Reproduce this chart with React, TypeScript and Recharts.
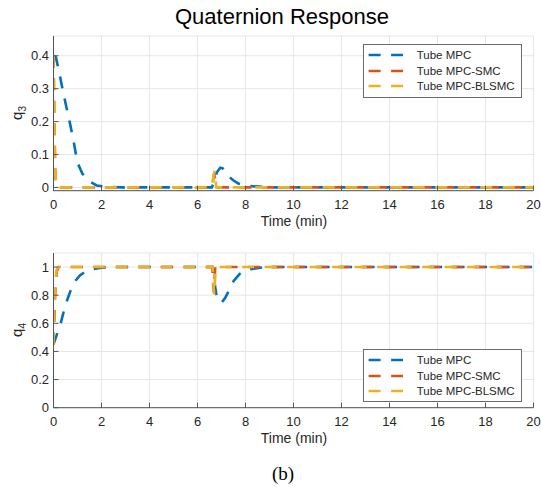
import React from "react";
import { LineChart, Line, XAxis, YAxis, CartesianGrid } from "recharts";

// ticks
const timeTicks = [0, 2, 4, 6, 8, 10, 12, 14, 16, 18, 20];
const q3Ticks = [0, 0.1, 0.2, 0.3, 0.4];
const q4Ticks = [0, 0.2, 0.4, 0.6, 0.8, 1];

const seriesNames = ["Tube MPC", "Tube MPC-SMC", "Tube MPC-BLSMC"];
const seriesColors = ["#0072BD", "#D95319", "#EDB120"];

// q3
const q3MpcTime = [0, 0.1, 0.25, 0.4, 0.55, 0.7, 0.85, 1.0, 1.2, 1.5, 1.8, 2.2, 2.8, 6.6, 6.7, 6.8, 6.95, 7.05, 7.3, 7.5, 7.7, 8.0, 8.4, 9.0, 20];
const q3MpcValue = [0.4, 0.395, 0.345, 0.29, 0.24, 0.19, 0.135, 0.075, 0.042, 0.018, 0.006, 0.002, 0, 0, 0.02, 0.045, 0.06, 0.058, 0.033, 0.021, 0.012, 0.006, 0.003, 0, 0];
const q3SmcTime = [0, 0.04, 0.08, 0.15, 6.62, 6.66, 6.7, 6.76, 20];
const q3SmcValue = [0.4, 0.2, 0.03, 0, 0, 0.03, 0.04, 0, 0];
const q3BlsmcTime = [0, 0.03, 0.06, 0.12, 6.62, 6.67, 6.72, 6.78, 20];
const q3BlsmcValue = [0.4, 0.25, 0.05, 0, 0, 0.04, 0.05, 0, 0];

// q4
const q4MpcTime = [0, 0.1, 0.2, 0.3, 0.45, 0.6, 0.75, 0.9, 1.1, 1.3, 1.6, 2.0, 2.5, 6.62, 6.7, 6.78, 6.9, 7.0, 7.15, 7.3, 7.5, 7.75, 8.0, 8.3, 8.7, 9.2, 20];
const q4MpcValue = [0.45, 0.5, 0.55, 0.6, 0.7, 0.78, 0.85, 0.9, 0.94, 0.965, 0.985, 0.996, 1, 1, 0.9, 0.81, 0.76, 0.745, 0.78, 0.83, 0.9, 0.95, 0.975, 0.988, 0.997, 1, 1];
const q4SmcTime = [0, 0.04, 0.08, 0.14, 0.22, 6.62, 6.65, 6.68, 6.74, 20];
const q4SmcValue = [0.45, 0.65, 0.85, 0.97, 1, 1, 0.88, 0.82, 1, 1];
const q4BlsmcTime = [0, 0.03, 0.07, 0.13, 0.2, 6.63, 6.67, 6.7, 6.76, 20];
const q4BlsmcValue = [0.45, 0.7, 0.88, 0.98, 1, 1, 0.86, 0.8, 1, 1];

const mk = (t: number[], v: number[]) => t.map((x, i) => ({ t: x, v: v[i] }));

const AXIS = "#555";
const TEXT = "#262626";
const DASH = "12 10.5";

type Series = { name: string; color: string; data: { t: number; v: number }[] };

function LegendBox({ top }: { top: number }) {
  return (
    <div
      style={{
        position: "absolute",
        left: 362.7,
        top,
        width: 157,
        height: 49,
        border: "1px solid #6b6b6b",
        background: "#fff",
        paddingTop: 2.5,
        boxSizing: "content-box",
      }}
    >
      {seriesNames.map((n, i) => (
        <div key={n} style={{ display: "flex", alignItems: "center", height: 15.5 }}>
          <svg width={53} height={6} style={{ flex: "none" }}>
            <line x1={4.6} x2={39} y1={3} y2={3} stroke={seriesColors[i]} strokeWidth={2.6} strokeDasharray={DASH} />
          </svg>
          <span style={{ fontSize: 11.5, color: TEXT, whiteSpace: "nowrap" }}>{n}</span>
        </div>
      ))}
    </div>
  );
}

function Panel({
  top,
  series,
  yDomain,
  yTicks,
  sub,
  legendTop,
}: {
  top: number;
  series: Series[];
  yDomain: [number, number];
  yTicks: number[];
  sub: string;
  legendTop: number;
}) {
  const tickStyle = { fontSize: 13, fill: TEXT };
  return (
    <div style={{ position: "absolute", left: 0, top, width: 541, height: 215 }}>
      <LineChart width={541} height={215} margin={{ top: 36, right: 7.5, left: 0, bottom: 4.3 }}>
        <CartesianGrid stroke="#e6e6e6" />
        <XAxis
          type="number"
          dataKey="t"
          domain={[0, 20]}
          ticks={timeTicks}
          interval={0}
          allowDataOverflow
          height={20}
          stroke={AXIS}
          tickSize={-5}
          tickMargin={13.6}
          tick={tickStyle}
        />
        <XAxis
          xAxisId="top"
          orientation="top"
          type="number"
          domain={[0, 20]}
          ticks={timeTicks}
          interval={0}
          allowDataOverflow
          height={0}
          stroke={AXIS}
          tickSize={-5}
          tick={false}
        />
        <YAxis
          type="number"
          domain={yDomain}
          ticks={yTicks}
          interval={0}
          allowDataOverflow
          width={53.5}
          stroke={AXIS}
          tickSize={-5}
          tickMargin={9.5}
          tick={tickStyle}
        />
        <YAxis
          yAxisId="right"
          orientation="right"
          type="number"
          domain={yDomain}
          ticks={yTicks}
          interval={0}
          allowDataOverflow
          width={0}
          stroke={AXIS}
          tickSize={-5}
          tick={false}
        />
        {series.map((s) => (
          <Line
            key={s.name}
            data={s.data}
            dataKey="v"
            name={s.name}
            type="linear"
            stroke={s.color}
            strokeWidth={2.6}
            strokeDasharray={DASH}
            dot={false}
            isAnimationActive={false}
          />
        ))}
      </LineChart>
      <div
        style={{
          position: "absolute",
          left: 18,
          top: 113,
          transform: "translate(-50%, -50%) rotate(-90deg)",
          fontSize: 15,
          lineHeight: 1,
          color: TEXT,
          whiteSpace: "nowrap",
        }}
      >
        q<sub style={{ fontSize: "0.7em" }}>{sub}</sub>
      </div>
      <div
        style={{
          position: "absolute",
          left: 294,
          top: 213.9,
          transform: "translateX(-50%)",
          fontSize: 14,
          lineHeight: 1,
          color: TEXT,
          whiteSpace: "nowrap",
        }}
      >
        Time (min)
      </div>
      <LegendBox top={legendTop} />
    </div>
  );
}

export default function App() {
  const q3Series: Series[] = [
    { name: seriesNames[0], color: seriesColors[0], data: mk(q3MpcTime, q3MpcValue) },
    { name: seriesNames[1], color: seriesColors[1], data: mk(q3SmcTime, q3SmcValue) },
    { name: seriesNames[2], color: seriesColors[2], data: mk(q3BlsmcTime, q3BlsmcValue) },
  ];
  const q4Series: Series[] = [
    { name: seriesNames[0], color: seriesColors[0], data: mk(q4MpcTime, q4MpcValue) },
    { name: seriesNames[1], color: seriesColors[1], data: mk(q4SmcTime, q4SmcValue) },
    { name: seriesNames[2], color: seriesColors[2], data: mk(q4BlsmcTime, q4BlsmcValue) },
  ];

  return (
    <div
      style={{
        position: "absolute",
        left: 0,
        top: 0,
        width: 541,
        height: 487,
        background: "#fff",
        fontFamily: "'Liberation Sans', Arial, sans-serif",
        overflow: "hidden",
      }}
    >
      <div
        style={{
          position: "absolute",
          left: 282,
          top: 6.4,
          transform: "translateX(-50%)",
          fontSize: 22,
          lineHeight: 1,
          color: "#000",
          whiteSpace: "nowrap",
        }}
      >
        Quaternion Response
      </div>
      <Panel top={0} series={q3Series} yDomain={[-0.01, 0.46]} yTicks={q3Ticks} sub="3" legendTop={44} />
      <Panel top={217.3} series={q4Series} yDomain={[0, 1.1]} yTicks={q4Ticks} sub="4" legendTop={131.7} />
      <div
        style={{
          position: "absolute",
          left: 283,
          top: 464,
          transform: "translateX(-50%)",
          fontSize: 19,
          lineHeight: 1,
          fontFamily: "'Liberation Serif', 'Times New Roman', serif",
          color: "#000",
        }}
      >
        (b)
      </div>
    </div>
  );
}
